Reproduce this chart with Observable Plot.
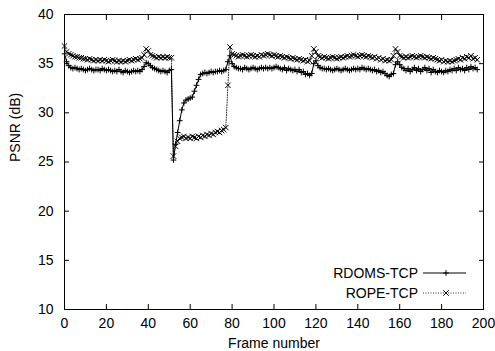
<!DOCTYPE html>
<html>
<head>
<meta charset="utf-8">
<script src="https://cdn.jsdelivr.net/npm/d3@7"></script>
<script src="https://cdn.jsdelivr.net/npm/@observablehq/plot@0.6"></script>
<style>
  html, body { margin: 0; padding: 0; background: white; }
  #wrap { position: relative; width: 495px; height: 351px; }
  #legend { position: absolute; left: 0; top: 0; pointer-events: none; }
</style>
</head>
<body>
<div id="wrap"></div>
<script>
// Series: RDOMS-TCP, one value per frame starting at frame 0
const rdoms = [
  36.0, 35.2, 34.8, 34.6,
  34.5, 34.6, 34.5, 34.4, 34.5, 34.4, 34.3, 34.4, 34.5, 34.4, 34.3, 34.4, 34.4, 34.3, 34.5, 34.4, 34.3,
  34.4, 34.3, 34.2, 34.3, 34.2, 34.4, 34.2, 34.1, 34.3, 34.2, 34.1, 34.2, 34.3, 34.2, 34.3, 34.2, 34.4,
  34.7, 35.1, 35.0, 34.8, 34.6, 34.5, 34.4, 34.3, 34.2, 34.3, 34.2, 34.1, 34.3, 34.4,
  25.2, 26.8, 28.0, 29.2, 30.3, 31.0, 31.3, 31.4, 31.5, 31.6, 32.2, 32.8, 33.4, 33.9, 34.0, 34.1,
  34.0, 34.1, 34.2, 34.1, 34.2, 34.2, 34.3, 34.2, 34.3, 34.4, 35.2, 35.8, 35.0, 34.7, 34.6, 34.5,
  34.5, 34.4, 34.6, 34.5, 34.4, 34.5, 34.6, 34.5, 34.4, 34.5, 34.6, 34.5, 34.6, 34.5,
  34.6, 34.5, 34.6, 34.7, 34.6, 34.5, 34.4, 34.6, 34.3, 34.5, 34.4, 34.3, 34.4,
  34.2, 34.4, 34.1, 34.2, 33.9, 34.0, 33.8,
  34.0, 35.0, 35.3, 34.8, 34.6, 34.5,
  34.5, 34.4, 34.5, 34.4, 34.3, 34.4, 34.5, 34.4, 34.3, 34.4, 34.5, 34.4, 34.3, 34.4, 34.5,
  34.4, 34.5, 34.4, 34.6, 34.5, 34.4, 34.5, 34.4, 34.3, 34.4, 34.2, 34.3, 34.1, 34.2, 34.0,
  33.8, 33.7, 33.9, 34.0, 34.9, 35.2, 34.9, 34.6, 34.5,
  34.3, 34.5, 34.2, 34.4, 34.6, 34.3, 34.5, 34.2, 34.4, 34.6, 34.3, 34.5, 34.1, 34.4, 34.2, 34.1, 34.3, 34.2,
  34.1, 34.3, 34.2, 34.4, 34.3, 34.5, 34.3, 34.6, 34.4, 34.5, 34.3, 34.6, 34.4, 34.7, 34.5, 34.6, 34.4
];
// Series: ROPE-TCP, one value per frame starting at frame 0
const rope = [
  36.8, 36.2, 36.0, 35.9, 35.8, 35.7, 35.7, 35.6, 35.6, 35.5, 35.5,
  35.4, 35.5, 35.4, 35.3, 35.4, 35.3, 35.4, 35.3, 35.4, 35.3, 35.2, 35.3, 35.4,
  35.3, 35.2, 35.3, 35.2, 35.3, 35.2, 35.3, 35.4, 35.3, 35.4, 35.5, 35.4, 35.5,
  35.6, 35.9, 36.5, 36.3, 35.9, 35.8, 35.7, 35.6, 35.7, 35.6, 35.7, 35.6, 35.7, 35.6, 35.6,
  25.6, 26.6, 27.1, 27.4, 27.5, 27.6, 27.4, 27.5, 27.4, 27.6, 27.5, 27.4, 27.6, 27.5, 27.7,
  27.6, 27.8, 27.7, 27.9, 27.8, 28.0, 28.1, 28.0, 28.2, 28.3, 28.5, 32.8, 36.7, 36.0, 35.9,
  35.8, 35.7, 35.8, 35.9, 35.8, 35.7, 35.8, 35.9, 35.8, 35.7, 35.8, 35.7, 35.9, 35.8, 35.9, 36.0, 35.9, 35.8,
  35.9, 35.8, 35.7, 35.8, 35.7, 35.6, 35.7, 35.6, 35.5, 35.6, 35.5, 35.4, 35.5, 35.4, 35.3, 35.4, 35.2, 35.3,
  35.8, 36.5, 36.2, 35.8, 35.7,
  35.6, 35.7, 35.6, 35.5, 35.6, 35.7, 35.6, 35.5, 35.6, 35.7, 35.6, 35.7, 35.8, 35.7, 35.8, 35.9,
  35.8, 35.7, 35.8, 35.9, 35.8, 35.7, 35.8, 35.7, 35.6, 35.7, 35.5, 35.6, 35.4, 35.5, 35.3, 35.4,
  35.3, 35.4, 35.8, 36.5, 36.2, 35.8, 35.7,
  35.6, 35.7, 35.6, 35.7, 35.8, 35.7, 35.6, 35.7, 35.8, 35.7, 35.6, 35.7, 35.6, 35.5, 35.6, 35.5, 35.4, 35.3,
  35.4, 35.2, 35.3, 35.2, 35.3, 35.2, 35.3, 35.4, 35.5, 35.4, 35.6, 35.5, 35.7, 35.6, 35.8, 35.5, 35.6, 35.4
];
const seriesNames = ["RDOMS-TCP", "ROPE-TCP"];
const xTicks = [0, 20, 40, 60, 80, 100, 120, 140, 160, 180, 200];
const yTicks = [10, 15, 20, 25, 30, 35, 40];
const xLabel = "Frame number";
const yLabel = "PSNR (dB)";

const rdomsData = rdoms.map((v, i) => ({frame: i, psnr: v}));
const ropeData = rope.map((v, i) => ({frame: i, psnr: v}));

const font = "'Liberation Sans', Arial, Helvetica, sans-serif";

const chart = Plot.plot({
  width: 495,
  height: 351,
  marginLeft: 64,
  marginRight: 12,
  marginTop: 14,
  marginBottom: 42,
  style: {fontFamily: font, fontSize: "14px", color: "black", background: "white", overflow: "visible"},
  x: {domain: [0, 200]},
  y: {domain: [10, 40]},
  marks: [
    Plot.axisX(xTicks, {anchor: "bottom", tickSize: -5, tickPadding: 14, label: null, fontSize: 14}),
    Plot.axisX(xTicks, {anchor: "top", tickSize: -5, tickFormat: () => "", label: null}),
    Plot.axisY(yTicks, {anchor: "left", tickSize: -5, tickPadding: 16, label: null, fontSize: 14}),
    Plot.axisY(yTicks, {anchor: "right", tickSize: -5, tickFormat: () => "", label: null}),
    Plot.text([xLabel], {frameAnchor: "bottom", dy: 34, lineAnchor: "middle", fontSize: 14, fill: "black"}),
    Plot.text([yLabel], {frameAnchor: "left", dx: -49, rotate: -90, lineAnchor: "middle", fontSize: 14, fill: "black"}),
    Plot.line(ropeData, {x: "frame", y: "psnr", stroke: "#333", strokeWidth: 1, strokeDasharray: "1,1.5"}),
    Plot.dot(ropeData, {x: "frame", y: "psnr", symbol: "times", r: 2.6, stroke: "black", strokeWidth: 1}),
    Plot.line(rdomsData, {x: "frame", y: "psnr", stroke: "black", strokeWidth: 1}),
    Plot.dot(rdomsData, {x: "frame", y: "psnr", symbol: "plus", r: 2, stroke: "black", strokeWidth: 1}),
    Plot.frame({stroke: "black", strokeWidth: 1})
  ]
});

const wrap = document.getElementById("wrap");
wrap.appendChild(chart);

// Legend overlay (inside plot, lower right, as in the reference)
const leg = d3.select(wrap).append("svg")
  .attr("id", "legend").attr("width", 495).attr("height", 351)
  .style("font-family", font).style("font-size", "14px");
const legRows = [
  {name: seriesNames[0], dash: null, sym: d3.symbolPlus, size: Math.PI * 2 * 2, y: 273},
  {name: seriesNames[1], dash: "1,1.5", sym: d3.symbolTimes, size: Math.PI * 2.6 * 2.6, y: 293}
];
legRows.forEach(r => {
  leg.append("text").attr("x", 418).attr("y", r.y).attr("dy", "0.35em")
    .attr("text-anchor", "end").attr("fill", "black").text(r.name);
  leg.append("line").attr("x1", 423).attr("x2", 466).attr("y1", r.y).attr("y2", r.y)
    .attr("stroke", r.dash ? "#333" : "black").attr("stroke-width", 1)
    .attr("stroke-dasharray", r.dash);
  leg.append("path").attr("d", d3.symbol(r.sym, r.size)())
    .attr("transform", `translate(446,${r.y})`).attr("fill", "none")
    .attr("stroke", "black").attr("stroke-width", 1);
});
</script>
</body>
</html>
